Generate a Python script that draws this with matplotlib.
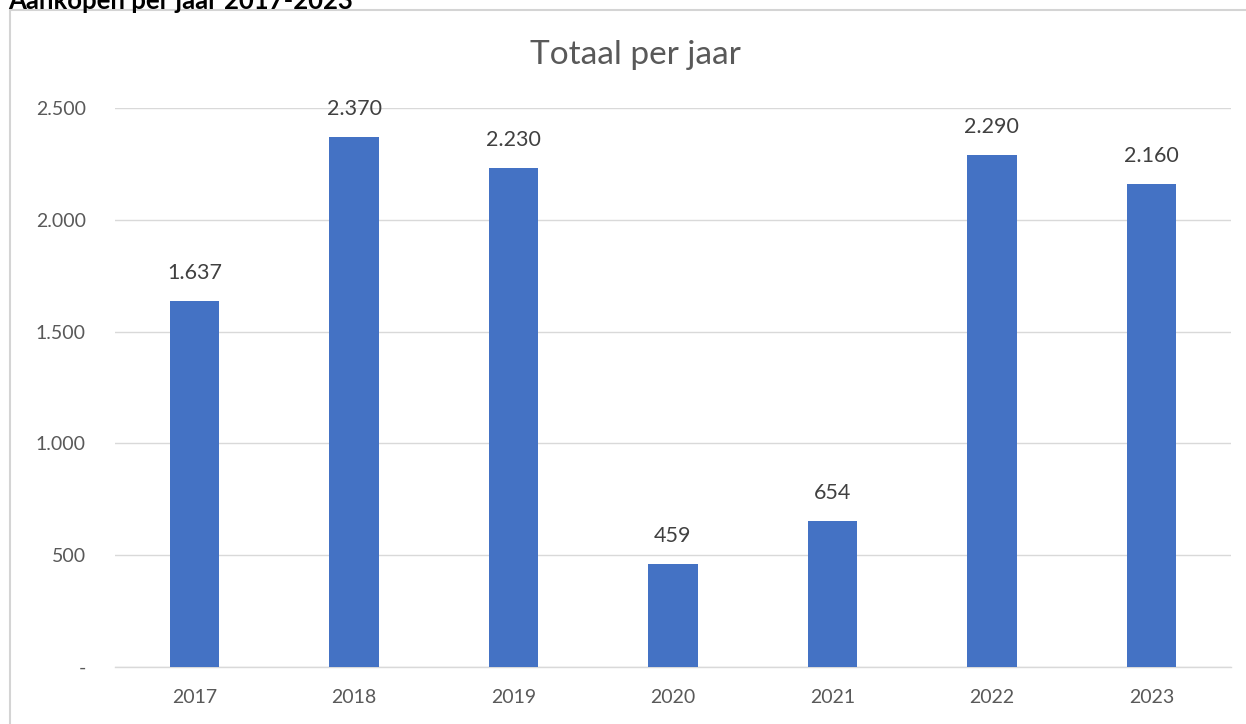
import matplotlib
matplotlib.use("Agg")
import matplotlib.pyplot as plt
from matplotlib.patches import Rectangle

years = ["2017", "2018", "2019", "2020", "2021", "2022", "2023"]
values = [1637, 2370, 2230, 459, 654, 2290, 2160]
yticks = [0, 500, 1000, 1500, 2000, 2500]
ytick_labels = ["-", "500", "1.000", "1.500", "2.000", "2.500"]

plt.rcParams['font.family'] = ['Lato', 'DejaVu Sans']

W, H = 1246, 724
fig = plt.figure(figsize=(W / 100, H / 100), dpi=100)

# outer chart border
fig.patches.append(Rectangle((10 / W, -0.01), 1.1, (H - 10) / H + 0.01,
                             transform=fig.transFigure, fill=False,
                             edgecolor="#d4d4d4", linewidth=1.5))
# page heading (cropped at the top edge, as in the reference)
fig.text(8 / W, 1 - 1 / H, "Aankopen per jaar 2017-2023", fontsize=18.5,
         fontweight="bold", color="black", va="center", ha="left")

ax = fig.add_axes([115 / W, 1 - 667 / H, (1231 - 115) / W, (667 - 108) / H])
x = list(range(len(years)))
ax.bar(x, values, width=0.31, color="#4472c4", zorder=3)
ax.set_xlim(-0.5, len(years) - 0.5)
ax.set_ylim(0, 2500)
ax.set_yticks(yticks)
ax.set_yticklabels(ytick_labels)
ax.set_xticks(x)
ax.set_xticklabels(years)
ax.tick_params(axis="both", length=0, labelsize=14, colors="#595959")
ax.tick_params(axis="x", pad=16)
ax.tick_params(axis="y", pad=21)
ax.grid(axis="y", color="#d9d9d9", linewidth=1, zorder=0)
for s in ["top", "right", "left"]:
    ax.spines[s].set_visible(False)
ax.spines["bottom"].set_color("#d9d9d9")
ax.spines["bottom"].set_linewidth(1)

for xi, v in zip(x, values):
    ax.annotate(f"{v:,}".replace(",", "."), (xi, v), xytext=(0, 13),
                textcoords="offset points", ha="center", va="bottom",
                fontsize=15.5, color="#404040")

fig.text(635 / W, 1 - 55 / H, "Totaal per jaar", fontsize=24,
         color="#595959", ha="center", va="center")

fig.savefig("out.png", dpi=100)
